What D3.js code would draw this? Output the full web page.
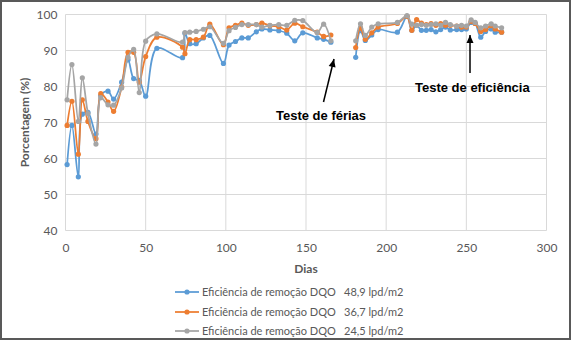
<!DOCTYPE html>
<html><head><meta charset="utf-8">
<script src="https://cdn.jsdelivr.net/npm/d3@7"></script>
<style>html,body{margin:0;padding:0;background:#fff}svg{display:block}</style>
</head><body>
<script>
// ---- data ----
const days = [1,4,8,10.5,14,19,22,26.5,30,35,39,42.5,46,50,57,73,74.5,77.5,81.5,86,90,98.5,102,106,110,114,119,122.5,127.5,133,138,143,148,157,161,165.5,
  null,
  181,184,187,191,195,207,213,216,219,222,225,228,231,234,237,240,244,247,250,253,255.5,259,262,265.5,268,272];
const serieA = [58.3,69.2,54.9,72.3,72.8,66.8,77.5,78.7,76.5,81.2,87.4,82.2,81.7,77.3,90.6,88,94.8,91.9,91.9,93.5,94.2,86.4,91.5,92.5,93.5,93.5,95.2,96,95.7,95.5,94.8,92.7,94.9,93.5,93.1,92.3,
  null,
  88.1,95.5,92.8,94.3,95.8,95.1,99.5,95.6,97,95.6,95.6,95.8,95.2,95.8,96.5,95.7,95.8,95.8,96,97.8,97.5,93.7,95.3,96,95.1,95.1];
const serieB = [69.2,75.9,61.2,76.3,70.3,65.5,78,75.7,73.1,79.8,89.5,89.5,81.2,88.3,93.7,90.9,89.1,93,93,93.7,97.3,91.6,96.3,97,97.6,97,97.2,97.6,96.9,96.6,95.7,97.6,96.6,95.1,93.9,94.3,
  null,
  90.8,96.2,93.1,94.9,96.5,97.5,99.5,95.6,98.6,97.6,97.2,97.5,97,97.5,97,97,96.8,96.5,96.5,98.1,97.5,95.3,95.8,96.9,96,95.1];
const serieC = [76.3,86.1,70.3,82.4,72.5,64,76.9,74.9,74.8,79.6,88.1,90.3,78.3,92.6,94.6,92.3,95,95.1,95.3,95.9,96.6,92,95.5,96.4,97.2,97.2,97.2,96.5,97,97.2,97,98.4,98.3,95,97.3,92.7,
  null,
  92.7,97.4,94.2,96.5,97.4,97.8,99.7,97.3,97,97.2,97,97.2,97.4,97,97.8,97.2,96.8,97,96.8,98.5,97.8,96.3,96.8,97.4,96.8,96.3];
const seriesNames = ["Eficiência de remoção DQO","Eficiência de remoção DQO","Eficiência de remoção DQO"];
const seriesRates = ["48,9 lpd/m2","36,7 lpd/m2","24,5 lpd/m2"];
const xTicks = [0,50,100,150,200,250,300];
const yTicks = [40,50,60,70,80,90,100];
const xTitle = "Dias";
const yTitle = "Porcentagem (%)";
const notes = [{text:"Teste de férias"},{text:"Teste de eficiência"}];

// ---- drawing ----
const W = 571, H = 340;
const colors = ["#5B9BD5","#ED7D31","#A5A5A5"];
const font = "Lato, 'Open Sans', sans-serif";
const svg = d3.select("body").append("svg").attr("width",W).attr("height",H);
svg.append("rect").attr("x",1).attr("y",1).attr("width",W-2).attr("height",H-2)
  .attr("fill","#fff").attr("stroke","#595959").attr("stroke-width",2);

const x = d3.scaleLinear().domain([0,300]).range([65.5,546.5]);
const y = d3.scaleLinear().domain([40,100]).range([230.5,14.5]);

// grid
const g = svg.append("g");
g.selectAll("line.h").data(yTicks).join("line")
  .attr("x1",x(0)).attr("x2",x(300)).attr("y1",d=>y(d)).attr("y2",d=>y(d))
  .attr("stroke","#D9D9D9").attr("stroke-width",1);
g.selectAll("line.v").data(xTicks).join("line")
  .attr("y1",y(40)).attr("y2",y(100)).attr("x1",d=>x(d)).attr("x2",d=>x(d))
  .attr("stroke","#D9D9D9").attr("stroke-width",1);

// axes via d3 axis
const xAxis = svg.append("g").attr("transform",`translate(0,${y(40)})`)
  .call(d3.axisBottom(x).tickValues(xTicks).tickSize(0).tickPadding(13).tickFormat(d3.format("d")));
const yAxis = svg.append("g").attr("transform",`translate(${x(0)},0)`)
  .call(d3.axisLeft(y).tickValues(yTicks).tickSize(0).tickPadding(8).tickFormat(d3.format("d")));
[xAxis,yAxis].forEach(a=>{
  a.select(".domain").remove();
  a.selectAll("text").attr("fill","#595959").style("font-family",font).style("font-size","12px");
});

svg.append("text").attr("x",(x(0)+x(300))/2).attr("y",273).attr("text-anchor","middle")
  .attr("fill","#595959").style("font-family",font).style("font-size","12px").style("font-weight","bold").text(xTitle);
svg.append("text").attr("transform",`translate(29,${(y(40)+y(100))/2}) rotate(-90)`).attr("text-anchor","middle")
  .attr("fill","#595959").style("font-family",font).style("font-size","12px").style("font-weight","bold").text(yTitle);

// series
const allSeries = [serieA, serieB, serieC];
const line = d3.line()
  .defined(d=>d[0]!==null && d[1]!==null)
  .x(d=>x(d[0])).y(d=>y(d[1]))
  .curve(d3.curveCatmullRom.alpha(0.5));
allSeries.forEach((s,i)=>{
  const pts = days.map((d,j)=>[d,s[j]]);
  svg.append("path").datum(pts).attr("d",line).attr("fill","none")
    .attr("stroke",colors[i]).attr("stroke-width",1.75);
  svg.append("g").selectAll("circle").data(pts.filter(p=>p[0]!==null&&p[1]!==null)).join("circle")
    .attr("cx",p=>x(p[0])).attr("cy",p=>y(p[1])).attr("r",2.6).attr("fill",colors[i]);
});

// annotations
function arrow(x1,y1,x2,y2){
  svg.append("line").attr("x1",x1).attr("y1",y1).attr("x2",x2).attr("y2",y2-0).attr("stroke","#000").attr("stroke-width",1.5);
  const ang = Math.atan2(y2-y1,x2-x1);
  const L=8, Wd=3.5;
  const bx = x2-L*Math.cos(ang), by = y2-L*Math.sin(ang);
  const px = -Math.sin(ang), py = Math.cos(ang);
  svg.append("path").attr("d",`M${x2},${y2}L${bx+px*Wd},${by+py*Wd}L${bx-px*Wd},${by-py*Wd}Z`).attr("fill","#000");
}
arrow(323.5,102,334,59);
arrow(470,73,470,35);
svg.append("text").attr("x",276).attr("y",119.5).attr("fill","#000")
  .style("font-family","'Liberation Sans', Arial, sans-serif").style("font-size","13px").style("font-weight","bold").text(notes[0].text);
svg.append("text").attr("x",415).attr("y",91.5).attr("fill","#000")
  .style("font-family","'Liberation Sans', Arial, sans-serif").style("font-size","13px").style("font-weight","bold").text(notes[1].text);

// legend
const legY = [292,312,331];
seriesNames.forEach((n,i)=>{
  const gy = legY[i];
  svg.append("line").attr("x1",175).attr("x2",199).attr("y1",gy).attr("y2",gy).attr("stroke",colors[i]).attr("stroke-width",1.75);
  svg.append("circle").attr("cx",187).attr("cy",gy).attr("r",2.6).attr("fill",colors[i]);
  svg.append("text").attr("x",202).attr("y",gy+4).attr("fill","#595959").style("font-family",font).style("font-size","11px").text(n);
  svg.append("text").attr("x",344).attr("y",gy+4).attr("fill","#595959").style("font-family",font).style("font-size","11px").text(seriesRates[i]);
});
</script>
</body></html>
